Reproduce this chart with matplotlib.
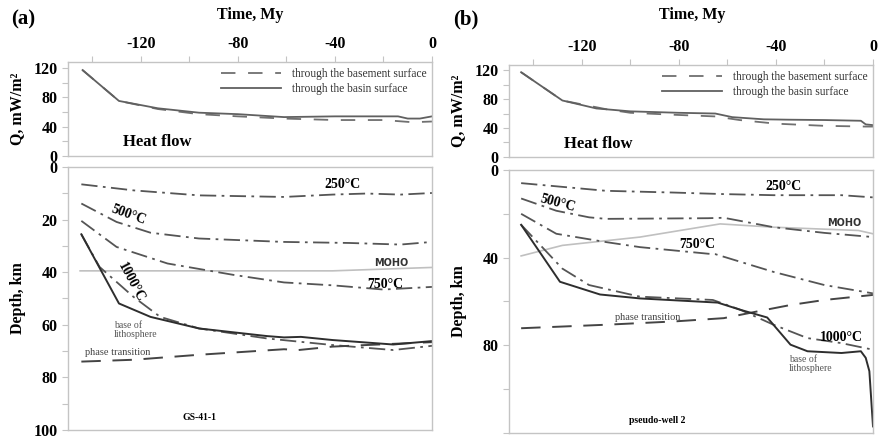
import matplotlib
matplotlib.use('Agg')
import matplotlib.pyplot as plt
from matplotlib.lines import Line2D
from matplotlib.ticker import MultipleLocator

plt.rcParams['font.family'] = ['Liberation Serif', 'DejaVu Serif']
plt.rcParams['axes.unicode_minus'] = False

# ---- heat flow, Q (mW/m2) vs time (My) ----
hf_a_basin_t = [-144, -129, -113, -96, -80, -61, -40, -14, -10, -5, 0]
hf_a_basin_q = [117, 75, 65, 59, 57, 53, 54, 54, 51, 51, 54]
hf_a_base_t = [-144, -129, -113, -96, -80, -61, -40, -20, -8, 0]
hf_a_base_q = [117, 75, 64, 57, 54, 51, 49, 49, 46, 47]

hf_b_basin_t = [-145, -128, -114, -100, -80, -65, -58, -45, -35, -20, -5, -3, 0]
hf_b_basin_q = [117, 78, 67, 63, 61, 60, 55, 52, 51.5, 51, 50, 45, 44]
hf_b_base_t = [-145, -128, -110, -100, -80, -65, -55, -40, -20, -3, 0]
hf_b_base_q = [117, 78, 66, 61, 58, 56, 51, 46, 43, 42, 42]

# ---- well GS-41-1: depth (km) of isotherms and boundaries ----
a_t250 = [-144.5, -123, -96, -61, -41, -27, -13, 0]
a_d250 = [6.6, 8.9, 10.8, 11.4, 10.5, 10.1, 10.5, 9.9]
a_t500 = [-144.5, -130, -116, -96, -61, -34, -13, 0]
a_d500 = [13.9, 20.9, 25.0, 27.2, 28.5, 28.9, 29.5, 28.5]
a_t750 = [-144.5, -130, -109, -82, -61, -41, -20, 0]
a_d750 = [20.5, 30.4, 36.7, 41.0, 43.9, 45.0, 46.6, 45.6]
a_t1000 = [-144.5, -137, -123, -112, -96, -68, -41, -16, 0]
a_d1000 = [25.6, 38.0, 49.4, 57.0, 61.4, 65.2, 67.7, 69.6, 68.0]
a_tmoho = [-145, -41, 0]
a_dmoho = [39.5, 39.5, 38.2]
a_tlitho = [-144.5, -129, -116, -96, -68, -61, -54, -41, -16, 0]
a_dlitho = [25.6, 51.9, 57.0, 61.4, 64.3, 64.8, 64.6, 65.8, 67.5, 66.2]
a_tphase = [-144.5, -123, -96, -61, -55, -41, -27, 0]
a_dphase = [74.0, 73.3, 71.4, 69.3, 69.6, 68.3, 67.7, 66.6]

# ---- pseudo-well 2 ----
b_t250 = [-145, -110, -82, -61.5, -41, -13, 0]
b_d250 = [6.0, 9.5, 10.3, 11.0, 11.5, 11.5, 12.5]
b_t500 = [-145, -130.5, -117, -110, -68, -61.5, -41, -20, 0]
b_d500 = [13.0, 18.6, 21.6, 22.3, 22.0, 21.8, 26.1, 28.7, 30.6]
b_t750 = [-145, -130.5, -110, -96, -68, -65, -41, -20, 0]
b_d750 = [20.0, 29.1, 32.9, 35.2, 38.2, 38.4, 46.5, 52.5, 56.3]
b_t1000 = [-145, -137, -128, -117, -96, -66, -54.6, -41, -27, -13, 0]
b_d1000 = [25.0, 34.4, 45.0, 52.5, 57.8, 59.3, 63.8, 70.6, 76.7, 79.0, 82.0]
b_tmoho = [-145, -128, -96, -63, -41, -6, 0]
b_dmoho = [39.2, 34.4, 30.6, 24.6, 26.1, 27.6, 29.1]
b_tlitho = [-145, -129, -112.5, -96, -64, -54.6, -43.6, -34, -27, -13, -5, -3, -1.5, 0]
b_dlitho = [25.0, 51.0, 56.8, 58.6, 60.5, 63.8, 67.3, 79.7, 82.7, 83.5, 82.7, 85.7, 91.8, 117.0]
b_tphase = [-145, -110, -82, -61.5, -48, -34, -20, 0]
b_dphase = [72.2, 70.6, 69.1, 67.6, 64.6, 61.6, 59.3, 57.0]

time_ticks = [-120, -80, -40, 0]

SPINE = '#c4c4c4'
DASHDOT = (0, (9, 3, 1.5, 3))
DASHED = (0, (10, 6))


def style_axes(ax):
    for s in ax.spines.values():
        s.set_color(SPINE)
        s.set_linewidth(1.0)
    ax.tick_params(which='both', colors=SPINE, labelcolor='black',
                   labelsize=11.5, length=4, width=0.8)
    for lab in ax.get_yticklabels() + ax.get_xticklabels():
        lab.set_fontweight('bold')


def heat_panel(ax, tb, qb, tbase, qbase, ymax, label_q):
    ax.plot(tbase, qbase, color='#707070', lw=1.3, ls=(0, (8, 7)))
    ax.plot(tb, qb, color='#606060', lw=1.3)
    ax.set_xlim(-150, 0)
    ax.set_ylim(0, ymax)
    ax.xaxis.tick_top()
    ax.set_xticks(time_ticks)
    ax.xaxis.set_minor_locator(MultipleLocator(20))
    ax.set_yticks([0, 40, 80, 120])
    ax.yaxis.set_minor_locator(MultipleLocator(20))
    style_axes(ax)
    ax.set_ylabel('Q, mW/m²', fontsize=11.5, fontweight='bold')
    ax.yaxis.set_label_coords(-0.118, 0.5)
    ax.text(-113.4, label_q, 'Heat flow', fontsize=12, fontweight='bold',
            ha='center', va='center')
    handles = [Line2D([], [], color='#707070', lw=1.3, ls=(0, (8, 7))),
               Line2D([], [], color='#606060', lw=1.3)]
    ax.legend(handles, ['through the basement surface', 'through the basin surface'],
              loc='upper right', frameon=False, fontsize=8.3, handlelength=5.2,
              handletextpad=0.9, labelspacing=0.3, borderaxespad=0.1,
              labelcolor='#333333')


def depth_panel(ax, data, ymax):
    (t250, d250, t500, d500, t750, d750, t1000, d1000,
     tmoho, dmoho, tlitho, dlitho, tphase, dphase) = data
    ax.plot(tmoho, dmoho, color='#c0c0c0', lw=1.2)
    for t, d in [(t250, d250), (t500, d500), (t750, d750), (t1000, d1000)]:
        ax.plot(t, d, color='#555555', lw=1.3, ls=DASHDOT)
    ax.plot(tphase, dphase, color='#444444', lw=1.4, ls=DASHED)
    ax.plot(tlitho, dlitho, color='#2e2e2e', lw=1.4)
    ax.set_xlim(-150, 0)
    ax.set_ylim(ymax, 0)
    ax.set_xticks([])
    style_axes(ax)
    ax.set_ylabel('Depth, km', fontsize=11.5, fontweight='bold')
    ax.yaxis.set_label_coords(-0.115, 0.5)


fig = plt.figure(figsize=(8.82, 4.38), dpi=100)

# panel (a)
ax_qa = fig.add_axes([0.0771, 0.6438, 0.4127, 0.2146])
heat_panel(ax_qa, hf_a_basin_t, hf_a_basin_q, hf_a_base_t, hf_a_base_q, 128, 19)

ax_da = fig.add_axes([0.0771, 0.0183, 0.4127, 0.6005])
depth_panel(ax_da, (a_t250, a_d250, a_t500, a_d500, a_t750, a_d750, a_t1000, a_d1000,
                    a_tmoho, a_dmoho, a_tlitho, a_dlitho, a_tphase, a_dphase), 100)
ax_da.set_yticks([0, 20, 40, 60, 80, 100])
ax_da.yaxis.set_minor_locator(MultipleLocator(10))
style_axes(ax_da)
ax_da.text(-37, 6.5, '250°C', fontsize=10, fontweight='bold', ha='center', va='center')
ax_da.text(-125, 18.3, '500°C', fontsize=10, fontweight='bold', ha='center', va='center', rotation=-20)
ax_da.text(-17, 36.5, 'MOHO', fontsize=7, fontweight='bold', family='DejaVu Sans',
           color='#333333', ha='center', va='center')
ax_da.text(-19.4, 44.5, '750°C', fontsize=10, fontweight='bold', ha='center', va='center')
ax_da.text(-124, 44, '1000°C', fontsize=10, fontweight='bold', ha='center', va='center', rotation=-62)
ax_da.text(-131, 62, 'base of\nlithosphere', fontsize=7, color='#555555', ha='left',
           va='center', linespacing=1.0)
ax_da.text(-129.5, 70.7, 'phase transition', fontsize=7.5, color='#444444', ha='center', va='center')
ax_da.text(-95.7, 95.4, 'GS-41-1', fontsize=7, fontweight='bold', ha='center', va='center')

# panel (b)
ax_qb = fig.add_axes([0.5771, 0.6416, 0.4127, 0.2100])
heat_panel(ax_qb, hf_b_basin_t, hf_b_basin_q, hf_b_base_t, hf_b_base_q, 127, 18)

ax_db = fig.add_axes([0.5771, 0.0114, 0.4127, 0.6005])
depth_panel(ax_db, (b_t250, b_d250, b_t500, b_d500, b_t750, b_d750, b_t1000, b_d1000,
                    b_tmoho, b_dmoho, b_tlitho, b_dlitho, b_tphase, b_dphase), 120)
ax_db.set_yticks([0, 40, 80])
ax_db.yaxis.set_minor_locator(MultipleLocator(20))
style_axes(ax_db)
ax_db.text(-36.8, 7.7, '250°C', fontsize=10, fontweight='bold', ha='center', va='center')
ax_db.text(-130, 15, '500°C', fontsize=10, fontweight='bold', ha='center', va='center', rotation=-15)
ax_db.text(-12, 24, 'MOHO', fontsize=7, fontweight='bold', family='DejaVu Sans',
           color='#333333', ha='center', va='center')
ax_db.text(-72.4, 34, '750°C', fontsize=10, fontweight='bold', ha='center', va='center')
ax_db.text(-13, 76.4, '1000°C', fontsize=10, fontweight='bold', ha='center', va='center')
ax_db.text(-34.8, 88.6, 'base of\nlithosphere', fontsize=7, color='#555555', ha='left',
           va='center', linespacing=1.0)
ax_db.text(-92.7, 67.3, 'phase transition', fontsize=7.5, color='#444444', ha='center', va='center')
ax_db.text(-89, 114.5, 'pseudo-well 2', fontsize=7, fontweight='bold', ha='center', va='center')

# headers
for x_lab, x_time, tag in [(23 / 882, 250 / 882, '(a)'), (466 / 882, 692 / 882, '(b)')]:
    fig.text(x_lab, 1 - 19 / 438, tag, fontsize=15, fontweight='bold', ha='center', va='center')
    fig.text(x_time, 1 - 15 / 438, 'Time, My', fontsize=11.5, fontweight='bold', ha='center', va='center')

fig.savefig('out.png', dpi=100)
